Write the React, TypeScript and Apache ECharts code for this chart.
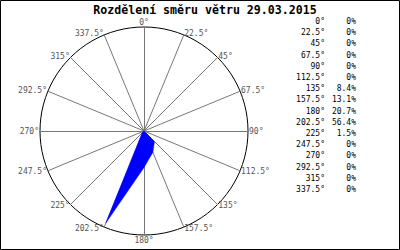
import React, { useEffect, useRef } from "react";
import * as echarts from "echarts";

const TITLE = "Rozdělení směru větru 29.03.2015";
const DIRECTIONS = [0, 22.5, 45, 67.5, 90, 112.5, 135, 157.5, 180, 202.5, 225, 247.5, 270, 292.5, 315, 337.5];
const DIRECTION_LABELS = ["0°", "22.5°", "45°", "67.5°", "90°", "112.5°", "135°", "157.5°", "180°", "202.5°", "225°", "247.5°", "270°", "292.5°", "315°", "337.5°"];
const PERCENTS = [0, 0, 0, 0, 0, 0, 8.4, 13.1, 20.7, 56.4, 1.5, 0, 0, 0, 0, 0];
const SCALE_MAX = 59;

const MONO = "'DejaVu Sans Mono', 'Liberation Mono', monospace";

export default function App() {
  const ref = useRef<HTMLDivElement>(null);
  useEffect(() => {
    if (!ref.current) return;
    const chart = echarts.init(ref.current, null, { renderer: "svg" });
    // radar goes counter-clockwise, so reorder: 0, 337.5, 315, ... 22.5
    const order = DIRECTIONS.map((_, i) => (DIRECTIONS.length - i) % DIRECTIONS.length);
    const legendTexts: any[] = [];
    DIRECTION_LABELS.forEach((lab, i) => {
      const y = 21.5 + i * 11.2;
      legendTexts.push({
        type: "text", x: 325, y,
        style: { text: lab, align: "right", verticalAlign: "middle", font: `8px ${MONO}`, fill: "#000" },
      });
      legendTexts.push({
        type: "text", x: 356, y,
        style: { text: `${PERCENTS[i]}%`, align: "right", verticalAlign: "middle", font: `8px ${MONO}`, fill: "#000" },
      });
    });
    chart.setOption({
      animation: false,
      backgroundColor: "#fff",
      title: {
        text: TITLE, left: 200, textAlign: "center", top: 1, padding: [2, 5, 2, 5],
        textStyle: { fontFamily: MONO, fontWeight: "bold", fontSize: 11.6, color: "#000", lineHeight: 13 },
      },
      radar: {
        center: [144, 131], radius: 104, startAngle: 90, splitNumber: 1, shape: "circle",
        indicator: order.map((i) => ({ name: DIRECTION_LABELS[i], max: SCALE_MAX, min: 0 })),
        nameGap: 1,
        axisName: { color: "#555", fontFamily: MONO, fontSize: 8 },
        axisLine: { lineStyle: { color: "#777", width: 1 } },
        splitLine: { lineStyle: { color: "#000", width: 1 } },
        splitArea: { show: false },
        axisTick: { show: false },
        axisLabel: { show: false },
      },
      series: [{
        type: "radar",
        symbol: "none",
        data: [{ value: order.map((i) => PERCENTS[i]) }],
        lineStyle: { color: "#0000ff", width: 0.5 },
        areaStyle: { color: "#0000ff", opacity: 1 },
      }],
      graphic: [
        { type: "rect", shape: { x: 0.5, y: 0.5, width: 399, height: 249 }, style: { fill: "none", stroke: "#000", lineWidth: 1 }, z: 100 },
        ...legendTexts,
      ],
    });
    return () => chart.dispose();
  }, []);
  return <div ref={ref} style={{ position: "fixed", left: 0, top: 0, width: 400, height: 250 }} />;
}
